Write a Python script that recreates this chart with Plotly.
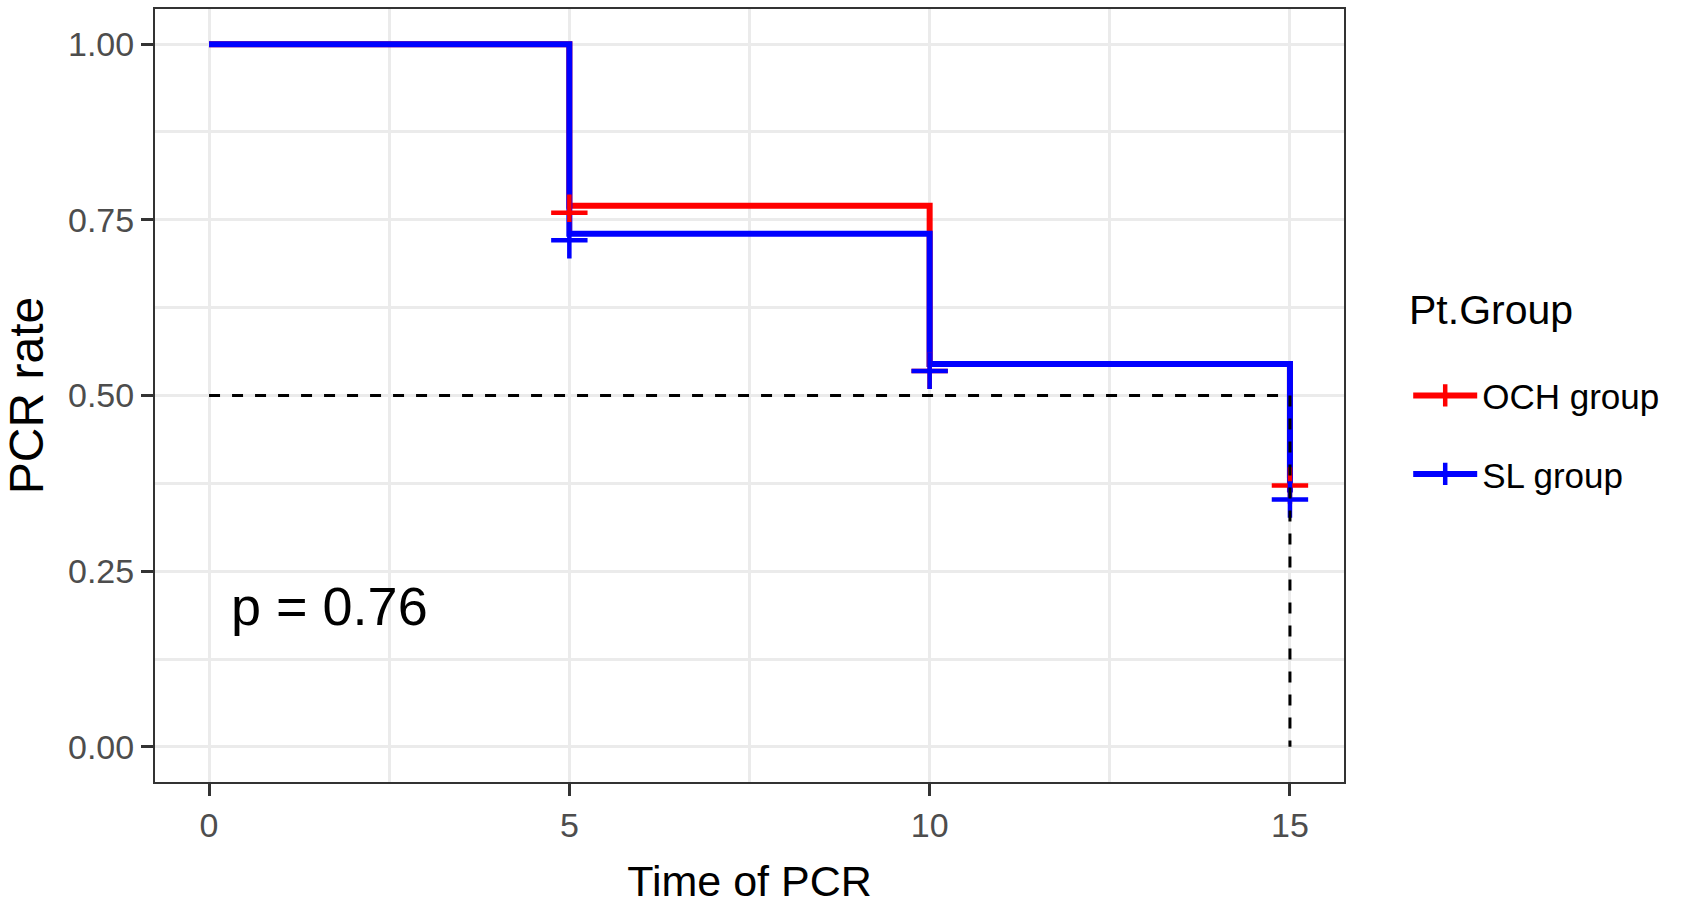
import plotly.graph_objects as go

# ---- data ----
groups = ["OCH group", "SL group"]
colors = ["#FF0000", "#0000FF"]

step_times = [0, 5, 10, 15]
och_surv = [1.0, 0.770, 0.545, 0.382]
sl_surv = [1.0, 0.730, 0.545, 0.362]

censor_times = [5, 10, 15]
och_censor = [0.760, 0.535, 0.372]
sl_censor = [0.721, 0.535, 0.352]

median_level = 0.5
median_time = 15

p_text = "p = 0.76"
p_pos = (0.28, 0.2)

x_ticks = [0, 5, 10, 15]
y_ticks = [0.0, 0.25, 0.5, 0.75, 1.0]
y_ticklabels = ["0.00", "0.25", "0.50", "0.75", "1.00"]

legend_title = "Pt.Group"

FONT = "Liberation Sans, Arial, sans-serif"

fig = go.Figure()

surv = [och_surv, sl_surv]
cens = [och_censor, sl_censor]

# step lines
for g, c, s in zip(groups, colors, surv):
    fig.add_trace(go.Scatter(
        x=step_times, y=s, mode="lines", line=dict(color=c, width=6, shape="hv"),
        showlegend=False, hoverinfo="skip"))

# censor marks
for g, c, s in zip(groups, colors, cens):
    fig.add_trace(go.Scatter(
        x=censor_times, y=s, mode="markers",
        marker=dict(symbol="cross-thin", size=26, line=dict(color=c, width=4.5)),
        showlegend=False, hoverinfo="skip"))

# median lines
fig.add_trace(go.Scatter(
    x=[step_times[0], median_time], y=[median_level, median_level], mode="lines",
    line=dict(color="black", width=3, dash="11px,12px"), showlegend=False, hoverinfo="skip"))
fig.add_trace(go.Scatter(
    x=[median_time, median_time], y=[median_level, 0], mode="lines",
    line=dict(color="black", width=3, dash="11px,12px"), showlegend=False, hoverinfo="skip"))

# legend entries
for g, c in zip(groups, colors):
    fig.add_trace(go.Scatter(
        x=[None], y=[None], mode="lines+markers", name=g, legendgroup=g,
        line=dict(color=c, width=6),
        marker=dict(symbol="cross-thin", size=30, line=dict(color=c, width=4.5))))

fig.add_annotation(x=p_pos[0], y=p_pos[1], text=p_text, showarrow=False,
                   xanchor="left", yanchor="middle",
                   font=dict(family=FONT, size=54, color="black"))

fig.add_annotation(xref="paper", yref="paper", x=1.053, y=0.610, text=legend_title,
                   showarrow=False, xanchor="left", yanchor="middle",
                   font=dict(family=FONT, size=41, color="black"))

axis_common = dict(
    showline=True, mirror=True, linecolor="#333333", linewidth=2,
    showgrid=True, gridcolor="#EBEBEB", gridwidth=3,
    ticks="outside", ticklen=12, tickwidth=3, tickcolor="#333333",
    tickfont=dict(family=FONT, size=34, color="#4D4D4D"),
    zeroline=False,
)

fig.update_xaxes(range=[-0.75, 15.75], tickvals=x_ticks,
                 title=dict(text="Time of PCR", font=dict(family=FONT, size=43, color="black"), standoff=23),
                 minor=dict(tickvals=[2.5, 7.5, 12.5], ticks="", showgrid=True,
                            gridcolor="#EBEBEB", gridwidth=3),
                 **axis_common)
fig.update_yaxes(range=[-0.05, 1.05], tickvals=y_ticks, ticktext=y_ticklabels,
                 title=dict(text="PCR rate", font=dict(family=FONT, size=48, color="black"), standoff=9),
                 minor=dict(tickvals=[0.125, 0.375, 0.625, 0.875], ticks="", showgrid=True,
                            gridcolor="#EBEBEB", gridwidth=3),
                 **axis_common)

fig.update_layout(
    width=1681, height=909,
    margin=dict(l=155, r=337, t=7, b=127),
    plot_bgcolor="white", paper_bgcolor="white",
    showlegend=True,
    legend=dict(
        x=1.054, y=0.538, xanchor="left", yanchor="top",
        font=dict(family=FONT, size=35, color="black"),
        tracegroupgap=30, itemwidth=64, bgcolor="rgba(0,0,0,0)",
    ),
)

fig.write_html("out.html", config={"displayModeBar": False},
               post_script="document.body.style.margin='0';document.body.style.overflow='hidden';")
